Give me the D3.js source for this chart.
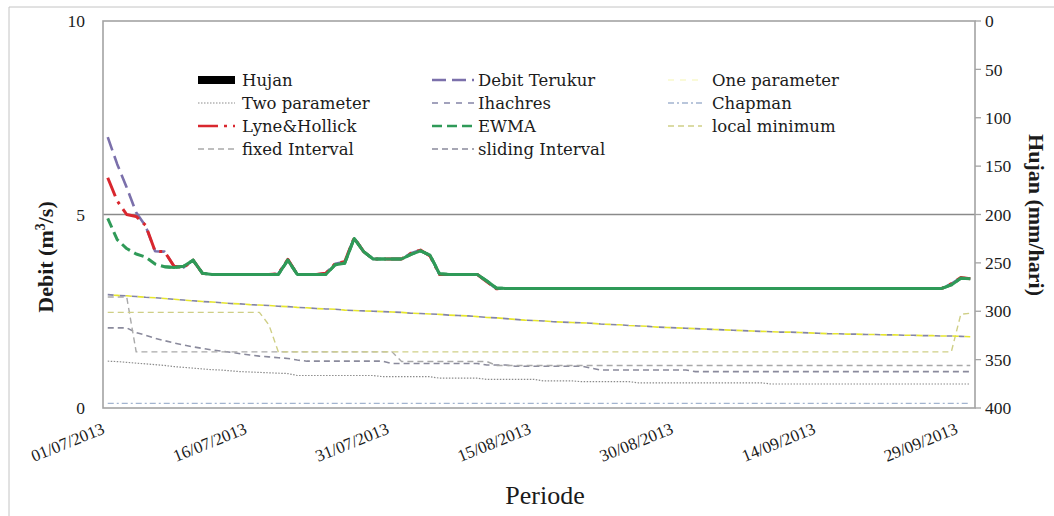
<!DOCTYPE html>
<html>
<head>
<meta charset="utf-8">
<script src="https://cdn.jsdelivr.net/npm/d3@7"></script>
<style>
  body { margin: 0; background: #fff; }
  svg { display: block; }
  text { font-family: "Liberation Serif", "Times New Roman", serif; fill: #1b1b1b; }
  .legend text { font-family: "DejaVu Serif", serif; font-size: 16.5px; }
</style>
</head>
<body>
<svg id="chart" width="1054" height="516"></svg>
<script>
// ---- data: daily values 01/07/2013 - 30/09/2013 ----
const days = d3.timeDay.range(new Date(2013, 6, 1), new Date(2013, 9, 1));
const categories = days.map(d3.timeFormat("%d/%m/%Y"));
const tickLabels = ["01/07/2013", "16/07/2013", "31/07/2013", "15/08/2013", "30/08/2013", "14/09/2013", "29/09/2013"];
const debitTicks = [0, 5, 10];
const hujanTicks = [0, 50, 100, 150, 200, 250, 300, 350, 400];

// rainfall (mm/hari)
const hujan = [
  0, 0, 0, 0, 0, 0, 0, 0, 0, 0,
  0, 0, 0, 0, 0, 0, 0, 0, 0, 0,
  0, 0, 0, 0, 0, 0, 0, 0, 0, 0,
  0, 0, 0, 0, 0, 0, 0, 0, 0, 0,
  0, 0, 0, 0, 0, 0, 0, 0, 0, 0,
  0, 0, 0, 0, 0, 0, 0, 0, 0, 0,
  0, 0, 0, 0, 0, 0, 0, 0, 0, 0,
  0, 0, 0, 0, 0, 0, 0, 0, 0, 0,
  0, 0, 0, 0, 0, 0, 0, 0, 0, 0,
  0, 0
];

// discharge series (m3/s)
const debitTerukur = [
  7.00, 6.30, 5.70, 5.05, 4.70, 4.05, 4.04, 3.66, 3.63, 3.82,
  3.48, 3.45, 3.45, 3.45, 3.45, 3.45, 3.45, 3.45, 3.47, 3.84,
  3.45, 3.45, 3.45, 3.48, 3.73, 3.78, 4.40, 4.04, 3.85, 3.85,
  3.85, 3.85, 4.00, 4.08, 3.93, 3.45, 3.45, 3.45, 3.45, 3.45,
  3.26, 3.08, 3.09, 3.09, 3.09, 3.09, 3.09, 3.09, 3.09, 3.09,
  3.09, 3.09, 3.09, 3.09, 3.09, 3.09, 3.09, 3.09, 3.09, 3.09,
  3.09, 3.09, 3.09, 3.09, 3.09, 3.09, 3.09, 3.09, 3.09, 3.09,
  3.09, 3.09, 3.09, 3.09, 3.09, 3.09, 3.09, 3.09, 3.09, 3.09,
  3.09, 3.09, 3.09, 3.09, 3.09, 3.09, 3.09, 3.09, 3.09, 3.21,
  3.37, 3.34
];
const onePar = [
  2.92, 2.91, 2.90, 2.88, 2.86, 2.85, 2.83, 2.81, 2.79, 2.77,
  2.75, 2.74, 2.72, 2.70, 2.69, 2.67, 2.66, 2.65, 2.63, 2.62,
  2.60, 2.59, 2.57, 2.56, 2.55, 2.53, 2.52, 2.51, 2.50, 2.49,
  2.48, 2.47, 2.45, 2.44, 2.43, 2.42, 2.40, 2.39, 2.38, 2.36,
  2.34, 2.33, 2.31, 2.29, 2.27, 2.26, 2.25, 2.23, 2.22, 2.21,
  2.20, 2.19, 2.17, 2.16, 2.15, 2.13, 2.12, 2.11, 2.09, 2.08,
  2.07, 2.06, 2.05, 2.04, 2.03, 2.02, 2.01, 2.00, 1.99, 1.98,
  1.97, 1.96, 1.96, 1.95, 1.94, 1.93, 1.92, 1.92, 1.91, 1.91,
  1.90, 1.90, 1.89, 1.89, 1.88, 1.88, 1.87, 1.87, 1.86, 1.86,
  1.85, 1.84
];
const twoPar = [
  1.21, 1.20, 1.18, 1.16, 1.14, 1.12, 1.10, 1.07, 1.05, 1.03,
  1.01, 0.99, 0.98, 0.96, 0.94, 0.93, 0.92, 0.91, 0.90, 0.89,
  0.84, 0.84, 0.84, 0.84, 0.84, 0.84, 0.84, 0.84, 0.84, 0.81,
  0.81, 0.81, 0.81, 0.81, 0.81, 0.77, 0.77, 0.77, 0.77, 0.77,
  0.74, 0.74, 0.74, 0.74, 0.74, 0.74, 0.70, 0.70, 0.70, 0.70,
  0.68, 0.68, 0.68, 0.68, 0.68, 0.68, 0.65, 0.65, 0.65, 0.65,
  0.65, 0.65, 0.65, 0.65, 0.65, 0.65, 0.65, 0.65, 0.65, 0.65,
  0.62, 0.62, 0.62, 0.62, 0.62, 0.62, 0.62, 0.62, 0.62, 0.62,
  0.62, 0.62, 0.62, 0.62, 0.62, 0.62, 0.62, 0.62, 0.62, 0.62,
  0.62, 0.62
];
const ihachres = [
  2.93, 2.91, 2.90, 2.88, 2.86, 2.85, 2.83, 2.81, 2.79, 2.77,
  2.75, 2.74, 2.72, 2.70, 2.69, 2.67, 2.66, 2.65, 2.63, 2.62,
  2.60, 2.59, 2.57, 2.56, 2.55, 2.53, 2.52, 2.51, 2.50, 2.49,
  2.48, 2.47, 2.45, 2.44, 2.43, 2.42, 2.40, 2.39, 2.38, 2.36,
  2.34, 2.33, 2.31, 2.29, 2.27, 2.26, 2.25, 2.23, 2.22, 2.21,
  2.20, 2.19, 2.17, 2.16, 2.15, 2.13, 2.12, 2.11, 2.09, 2.08,
  2.07, 2.06, 2.05, 2.04, 2.03, 2.02, 2.01, 2.00, 1.99, 1.98,
  1.97, 1.96, 1.96, 1.95, 1.94, 1.93, 1.92, 1.92, 1.91, 1.91,
  1.90, 1.90, 1.89, 1.89, 1.88, 1.88, 1.87, 1.87, 1.86, 1.86,
  1.85, 1.84
];
const chapman = [
  0.12, 0.12, 0.12, 0.12, 0.12, 0.12, 0.12, 0.12, 0.12, 0.12,
  0.12, 0.12, 0.12, 0.12, 0.12, 0.12, 0.12, 0.12, 0.12, 0.12,
  0.12, 0.12, 0.12, 0.12, 0.12, 0.12, 0.12, 0.12, 0.12, 0.12,
  0.12, 0.12, 0.12, 0.12, 0.12, 0.12, 0.12, 0.12, 0.12, 0.12,
  0.12, 0.12, 0.12, 0.12, 0.12, 0.12, 0.12, 0.12, 0.12, 0.12,
  0.12, 0.12, 0.12, 0.12, 0.12, 0.12, 0.12, 0.12, 0.12, 0.12,
  0.12, 0.12, 0.12, 0.12, 0.12, 0.12, 0.12, 0.12, 0.12, 0.12,
  0.12, 0.12, 0.12, 0.12, 0.12, 0.12, 0.12, 0.12, 0.12, 0.12,
  0.12, 0.12, 0.12, 0.12, 0.12, 0.12, 0.12, 0.12, 0.12, 0.12,
  0.12, 0.12
];
const lyneHollick = [
  5.95, 5.35, 5.00, 4.95, 4.72, 4.05, 4.04, 3.66, 3.63, 3.82,
  3.48, 3.45, 3.45, 3.45, 3.45, 3.45, 3.45, 3.45, 3.47, 3.84,
  3.45, 3.45, 3.45, 3.48, 3.73, 3.78, 4.40, 4.04, 3.85, 3.85,
  3.85, 3.85, 4.00, 4.08, 3.93, 3.45, 3.45, 3.45, 3.45, 3.45,
  3.26, 3.08, 3.09, 3.09, 3.09, 3.09, 3.09, 3.09, 3.09, 3.09,
  3.09, 3.09, 3.09, 3.09, 3.09, 3.09, 3.09, 3.09, 3.09, 3.09,
  3.09, 3.09, 3.09, 3.09, 3.09, 3.09, 3.09, 3.09, 3.09, 3.09,
  3.09, 3.09, 3.09, 3.09, 3.09, 3.09, 3.09, 3.09, 3.09, 3.09,
  3.09, 3.09, 3.09, 3.09, 3.09, 3.09, 3.09, 3.09, 3.09, 3.21,
  3.37, 3.34
];
const ewma = [
  4.90, 4.35, 4.12, 3.98, 3.90, 3.72, 3.65, 3.63, 3.66, 3.82,
  3.48, 3.45, 3.45, 3.45, 3.45, 3.45, 3.45, 3.45, 3.45, 3.82,
  3.45, 3.45, 3.45, 3.45, 3.70, 3.74, 4.38, 4.04, 3.85, 3.85,
  3.85, 3.85, 3.97, 4.06, 3.95, 3.47, 3.45, 3.45, 3.45, 3.45,
  3.28, 3.10, 3.09, 3.09, 3.09, 3.09, 3.09, 3.09, 3.09, 3.09,
  3.09, 3.09, 3.09, 3.09, 3.09, 3.09, 3.09, 3.09, 3.09, 3.09,
  3.09, 3.09, 3.09, 3.09, 3.09, 3.09, 3.09, 3.09, 3.09, 3.09,
  3.09, 3.09, 3.09, 3.09, 3.09, 3.09, 3.09, 3.09, 3.09, 3.09,
  3.09, 3.09, 3.09, 3.09, 3.09, 3.09, 3.09, 3.09, 3.09, 3.18,
  3.35, 3.34
];
const localMin = [
  2.47, 2.47, 2.47, 2.47, 2.47, 2.47, 2.47, 2.47, 2.47, 2.47,
  2.47, 2.47, 2.47, 2.47, 2.47, 2.47, 2.47, 2.15, 1.45, 1.45,
  1.45, 1.45, 1.45, 1.45, 1.45, 1.45, 1.45, 1.45, 1.45, 1.45,
  1.45, 1.45, 1.45, 1.45, 1.45, 1.45, 1.45, 1.45, 1.45, 1.45,
  1.45, 1.45, 1.45, 1.45, 1.45, 1.45, 1.45, 1.45, 1.45, 1.45,
  1.45, 1.45, 1.45, 1.45, 1.45, 1.45, 1.45, 1.45, 1.45, 1.45,
  1.45, 1.45, 1.45, 1.45, 1.45, 1.45, 1.45, 1.45, 1.45, 1.45,
  1.45, 1.45, 1.45, 1.45, 1.45, 1.45, 1.45, 1.45, 1.45, 1.45,
  1.45, 1.45, 1.45, 1.45, 1.45, 1.45, 1.45, 1.45, 1.45, 1.45,
  2.42, 2.45
];
const fixedInterval = [
  2.87, 2.87, 2.87, 1.45, 1.45, 1.45, 1.45, 1.45, 1.45, 1.45,
  1.45, 1.45, 1.45, 1.45, 1.45, 1.45, 1.45, 1.45, 1.45, 1.45,
  1.45, 1.45, 1.45, 1.45, 1.45, 1.45, 1.45, 1.45, 1.45, 1.45,
  1.45, 1.20, 1.20, 1.20, 1.20, 1.20, 1.20, 1.20, 1.20, 1.20,
  1.20, 1.10, 1.10, 1.10, 1.10, 1.10, 1.10, 1.10, 1.10, 1.10,
  1.10, 1.10, 1.10, 1.10, 1.10, 1.10, 1.10, 1.10, 1.10, 1.10,
  1.10, 1.10, 1.10, 1.10, 1.10, 1.10, 1.10, 1.10, 1.10, 1.10,
  1.10, 1.10, 1.10, 1.10, 1.10, 1.10, 1.10, 1.10, 1.10, 1.10,
  1.10, 1.10, 1.10, 1.10, 1.10, 1.10, 1.10, 1.10, 1.10, 1.10,
  1.10, 1.10
];
const slidingInterval = [
  2.07, 2.07, 2.07, 1.95, 1.88, 1.80, 1.74, 1.68, 1.63, 1.58,
  1.54, 1.50, 1.47, 1.44, 1.40, 1.37, 1.34, 1.32, 1.30, 1.28,
  1.24, 1.21, 1.21, 1.21, 1.21, 1.21, 1.21, 1.21, 1.21, 1.21,
  1.15, 1.15, 1.15, 1.15, 1.15, 1.15, 1.15, 1.15, 1.15, 1.15,
  1.11, 1.11, 1.11, 1.08, 1.08, 1.08, 1.08, 1.08, 1.08, 1.08,
  1.08, 1.03, 0.98, 0.98, 0.98, 0.98, 0.98, 0.98, 0.98, 0.98,
  0.98, 0.98, 0.94, 0.94, 0.94, 0.94, 0.94, 0.94, 0.94, 0.94,
  0.94, 0.94, 0.94, 0.94, 0.94, 0.94, 0.94, 0.94, 0.94, 0.94,
  0.94, 0.94, 0.94, 0.94, 0.94, 0.94, 0.94, 0.94, 0.94, 0.94,
  0.94, 0.94
];

// ---- line styles ----
const styles = {
  "Debit Terukur":    { color: "#7b70ab", width: 2.6, dash: "14,6" },
  "One parameter":    { color: "#e6e62e", width: 1.6, dash: "6,6", offset: 6, legendOpacity: 0.25 },
  "Two parameter":    { color: "#8c8c8c", width: 1.2, dash: "1.5,1.5" },
  "Ihachres":         { color: "#8484a6", width: 1.6, dash: "6,6" },
  "Chapman":          { color: "#a2b4cf", width: 1.4, dash: "6,3,2,3" },
  "Lyne&Hollick":     { color: "#d9272e", width: 3, dash: "20,6,3,6" },
  "EWMA":             { color: "#2f9a58", width: 3, dash: "10,5" },
  "local minimum":    { color: "#cfcf86", width: 1.4, dash: "6,4" },
  "fixed Interval":   { color: "#a9a9a9", width: 1.4, dash: "6,4" },
  "sliding Interval": { color: "#8a8a9c", width: 1.6, dash: "6,4" }
};

const svg = d3.select("#chart");
const W = 1054, H = 516;
const plot = { left: 103, right: 975, top: 21, bottom: 408 };

const x = d3.scalePoint().domain(categories).range([plot.left, plot.right]).padding(0.5);
const y = d3.scaleLinear().domain([0, 10]).range([plot.bottom, plot.top]);
const y2 = d3.scaleLinear().domain([0, 400]).range([plot.top, plot.bottom]);

// outer frame
svg.append("path").attr("d", `M9,${H} V7 H${W}`).attr("fill", "none").attr("stroke", "#c4c4c4").attr("stroke-width", 1);

// gridline at 5 and plot border
svg.append("g").selectAll("line").data(debitTicks.filter(t => t > 0 && t < 10)).join("line")
  .attr("x1", plot.left).attr("x2", plot.right)
  .attr("y1", d => y(d)).attr("y2", d => y(d))
  .attr("stroke", "#8a8a8a").attr("stroke-width", 1.6);
svg.append("rect")
  .attr("x", plot.left).attr("y", plot.top)
  .attr("width", plot.right - plot.left).attr("height", plot.bottom - plot.top)
  .attr("fill", "none").attr("stroke", "#a3a3a3").attr("stroke-width", 1.6);

// rainfall bars hanging from the top (secondary axis)
svg.append("g").selectAll("rect").data(hujan).join("rect")
  .attr("x", (d, i) => x(categories[i]) - 3)
  .attr("y", y2(0)).attr("width", 6)
  .attr("height", d => y2(d) - y2(0))
  .attr("fill", "#000");

// discharge lines
const line = d3.line().x((d, i) => x(categories[i])).y(d => y(d));
const drawOrder = [
  ["Chapman", chapman], ["Two parameter", twoPar], ["sliding Interval", slidingInterval],
  ["fixed Interval", fixedInterval], ["local minimum", localMin], ["Ihachres", ihachres],
  ["One parameter", onePar], ["Debit Terukur", debitTerukur], ["Lyne&Hollick", lyneHollick],
  ["EWMA", ewma]
];
const lines = svg.append("g").attr("fill", "none").attr("stroke-linejoin", "round");
drawOrder.forEach(([name, values]) => {
  const s = styles[name];
  lines.append("path").attr("d", line(values))
    .attr("stroke", s.color).attr("stroke-width", s.width)
    .attr("stroke-dasharray", s.dash).attr("stroke-dashoffset", s.offset || 0);
});
// where the three upper curves coincide the EWMA trace reads as continuous
const ewmaMerged = ewma.map((v, i) => i >= 6 ? v : null);
lines.append("path")
  .attr("d", d3.line().defined(d => d !== null).x((d, i) => x(categories[i])).y(d => y(d))(ewmaMerged))
  .attr("stroke", styles["EWMA"].color).attr("stroke-width", styles["EWMA"].width);

// left axis labels
svg.append("g").selectAll("text").data(debitTicks).join("text")
  .attr("x", 85).attr("y", d => y(d)).attr("dy", "0.35em")
  .attr("text-anchor", "end").attr("font-size", 17.5).text(d => d);

// right axis ticks + labels
const ra = svg.append("g");
ra.selectAll("line").data(hujanTicks).join("line")
  .attr("x1", plot.right).attr("x2", plot.right + 6)
  .attr("y1", d => y2(d)).attr("y2", d => y2(d))
  .attr("stroke", "#a3a3a3").attr("stroke-width", 1.3);
ra.selectAll("text").data(hujanTicks).join("text")
  .attr("x", plot.right + 10).attr("y", d => y2(d)).attr("dy", "0.35em")
  .attr("font-size", 17.5).text(d => d);

// date labels
svg.append("g").selectAll("text").data(tickLabels).join("text")
  .attr("transform", d => `translate(${x(d) - 2},433) rotate(-22)`)
  .attr("text-anchor", "end").attr("font-size", 17).text(d => d);

// axis titles
svg.append("text").attr("x", 545).attr("y", 504).attr("text-anchor", "middle")
  .attr("font-size", 26).text("Periode");
const yt = svg.append("text").attr("transform", "translate(53,257) rotate(-90)")
  .attr("text-anchor", "middle").attr("font-size", 22).attr("font-weight", "bold");
yt.append("tspan").text("Debit (m");
yt.append("tspan").attr("font-size", 14).attr("dy", -8).text("3");
yt.append("tspan").attr("dy", 8).text("/s)");
svg.append("text").attr("transform", "translate(1029,215) rotate(90)")
  .attr("text-anchor", "middle").attr("font-size", 22).attr("font-weight", "bold")
  .text("Hujan (mm/hari)");

// legend
const legendItems = ["Hujan", "Debit Terukur", "One parameter", "Two parameter", "Ihachres", "Chapman",
  "Lyne&Hollick", "EWMA", "local minimum", "fixed Interval", "sliding Interval"];
const colX = [198, 432, 668], colLen = [37, 42, 34], textX = [242, 478, 712], rowY = [80, 103, 126, 149];
const lg = svg.append("g").attr("class", "legend");
legendItems.forEach((name, k) => {
  const c = k % 3, r = Math.floor(k / 3);
  const yy = rowY[r];
  if (name === "Hujan") {
    lg.append("rect").attr("x", colX[c]).attr("y", yy - 4).attr("width", colLen[c]).attr("height", 8).attr("fill", "#000");
  } else {
    const s = styles[name];
    lg.append("line").attr("x1", colX[c]).attr("x2", colX[c] + colLen[c]).attr("y1", yy).attr("y2", yy)
      .attr("stroke", s.color).attr("stroke-width", Math.min(s.width, 2.6))
      .attr("stroke-opacity", s.legendOpacity || 1)
      .attr("stroke-dasharray", s.dash);
  }
  lg.append("text").attr("x", textX[c]).attr("y", yy).attr("dy", "0.35em").text(name);
});
</script>
</body>
</html>
